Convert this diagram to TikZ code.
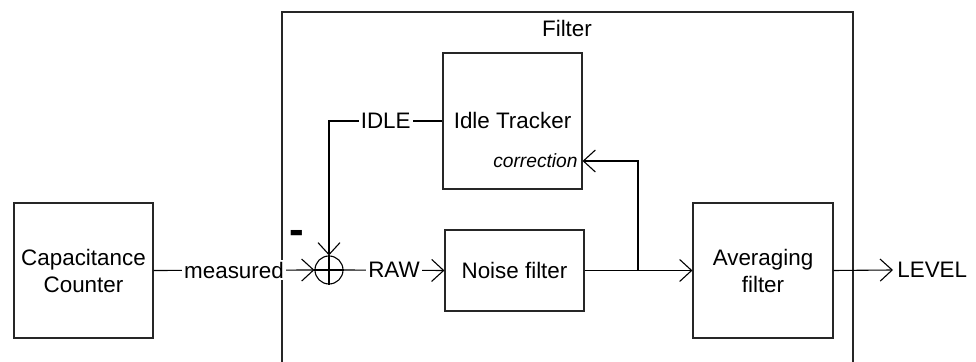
\documentclass[tikz,border=0pt]{standalone}
\usepackage{fontspec}
\setmainfont{Liberation Sans}
\usepackage{tikz}
\usetikzlibrary{arrows.meta,positioning,calc}
\tikzset{
  block/.style={draw=black!85,line width=0.55pt,inner sep=0pt,align=center,
    minimum width=69.5pt,minimum height=67.5pt},
  sig/.style={-{Straight Barb[length=6pt,width=11pt]},line width=0.55pt,draw=black},
  wire/.style={line width=0.55pt,draw=black},
  lbl/.style={fill=white,inner sep=1pt},
  sumpt/.style={circle,draw=black,line width=0.55pt,minimum size=14pt,inner sep=0pt}
}

\begin{document}
\begin{tikzpicture}[
  x=0.5pt,y=-0.5pt,
  font=\fontsize{11.2}{13.5}\selectfont,
  portlabel/.style={font=\fontsize{9.6}{11}\selectfont\itshape,inner sep=1pt},
  framebox/.style={line width=0.55pt,draw=black!85}
]
  \useasboundingbox (0,0) rectangle (976,362);

  % enclosing filter frame, open at the bottom
  \draw[framebox] (282,362)--(282,12)--(853,12)--(853,362);
  \node (filtername) at (567,29) {Filter};

  \node[block] (counter) at (83.5,270.5) {Capacitance\\Counter};
  \node[block,minimum height=68pt] (idle) at (512.5,121) {Idle Tracker};
  \node[block,minimum height=40.5pt] (noise) at (514.5,270.5) {Noise filter};
  \node[block,minimum width=70pt] (avg) at (763,270.5) {Averaging\\filter};

  \node[sumpt] (sum) at (329,270) {};
  \draw[wire] (sum.north)--(sum.south);
  \draw[wire] (sum.west)--(sum.east);
  \node[font=\bfseries\fontsize{22}{22}\selectfont] (minus) at (297,237) {-};

  \node[portlabel,anchor=east] (corr) at (580,161) {correction};
  \node[anchor=west,inner sep=2pt] (level) at (893,270) {LEVEL};

  \coordinate (branch) at (638,270);

  \draw[sig] (counter.east) -- node[lbl] {measured} (sum.west);
  \draw[sig] (idle.west) -- node[lbl] {IDLE} (idle.west -| sum) -- (sum.north);
  \draw[sig] (sum.east) -- node[lbl] {RAW} (noise.west);
  \draw[sig] (noise.east) -- (avg.west);
  \draw[sig] (branch) |- (corr.east -| idle.east);
  \draw[sig] (avg.east) -- (level.west);

\end{tikzpicture}
\end{document}
